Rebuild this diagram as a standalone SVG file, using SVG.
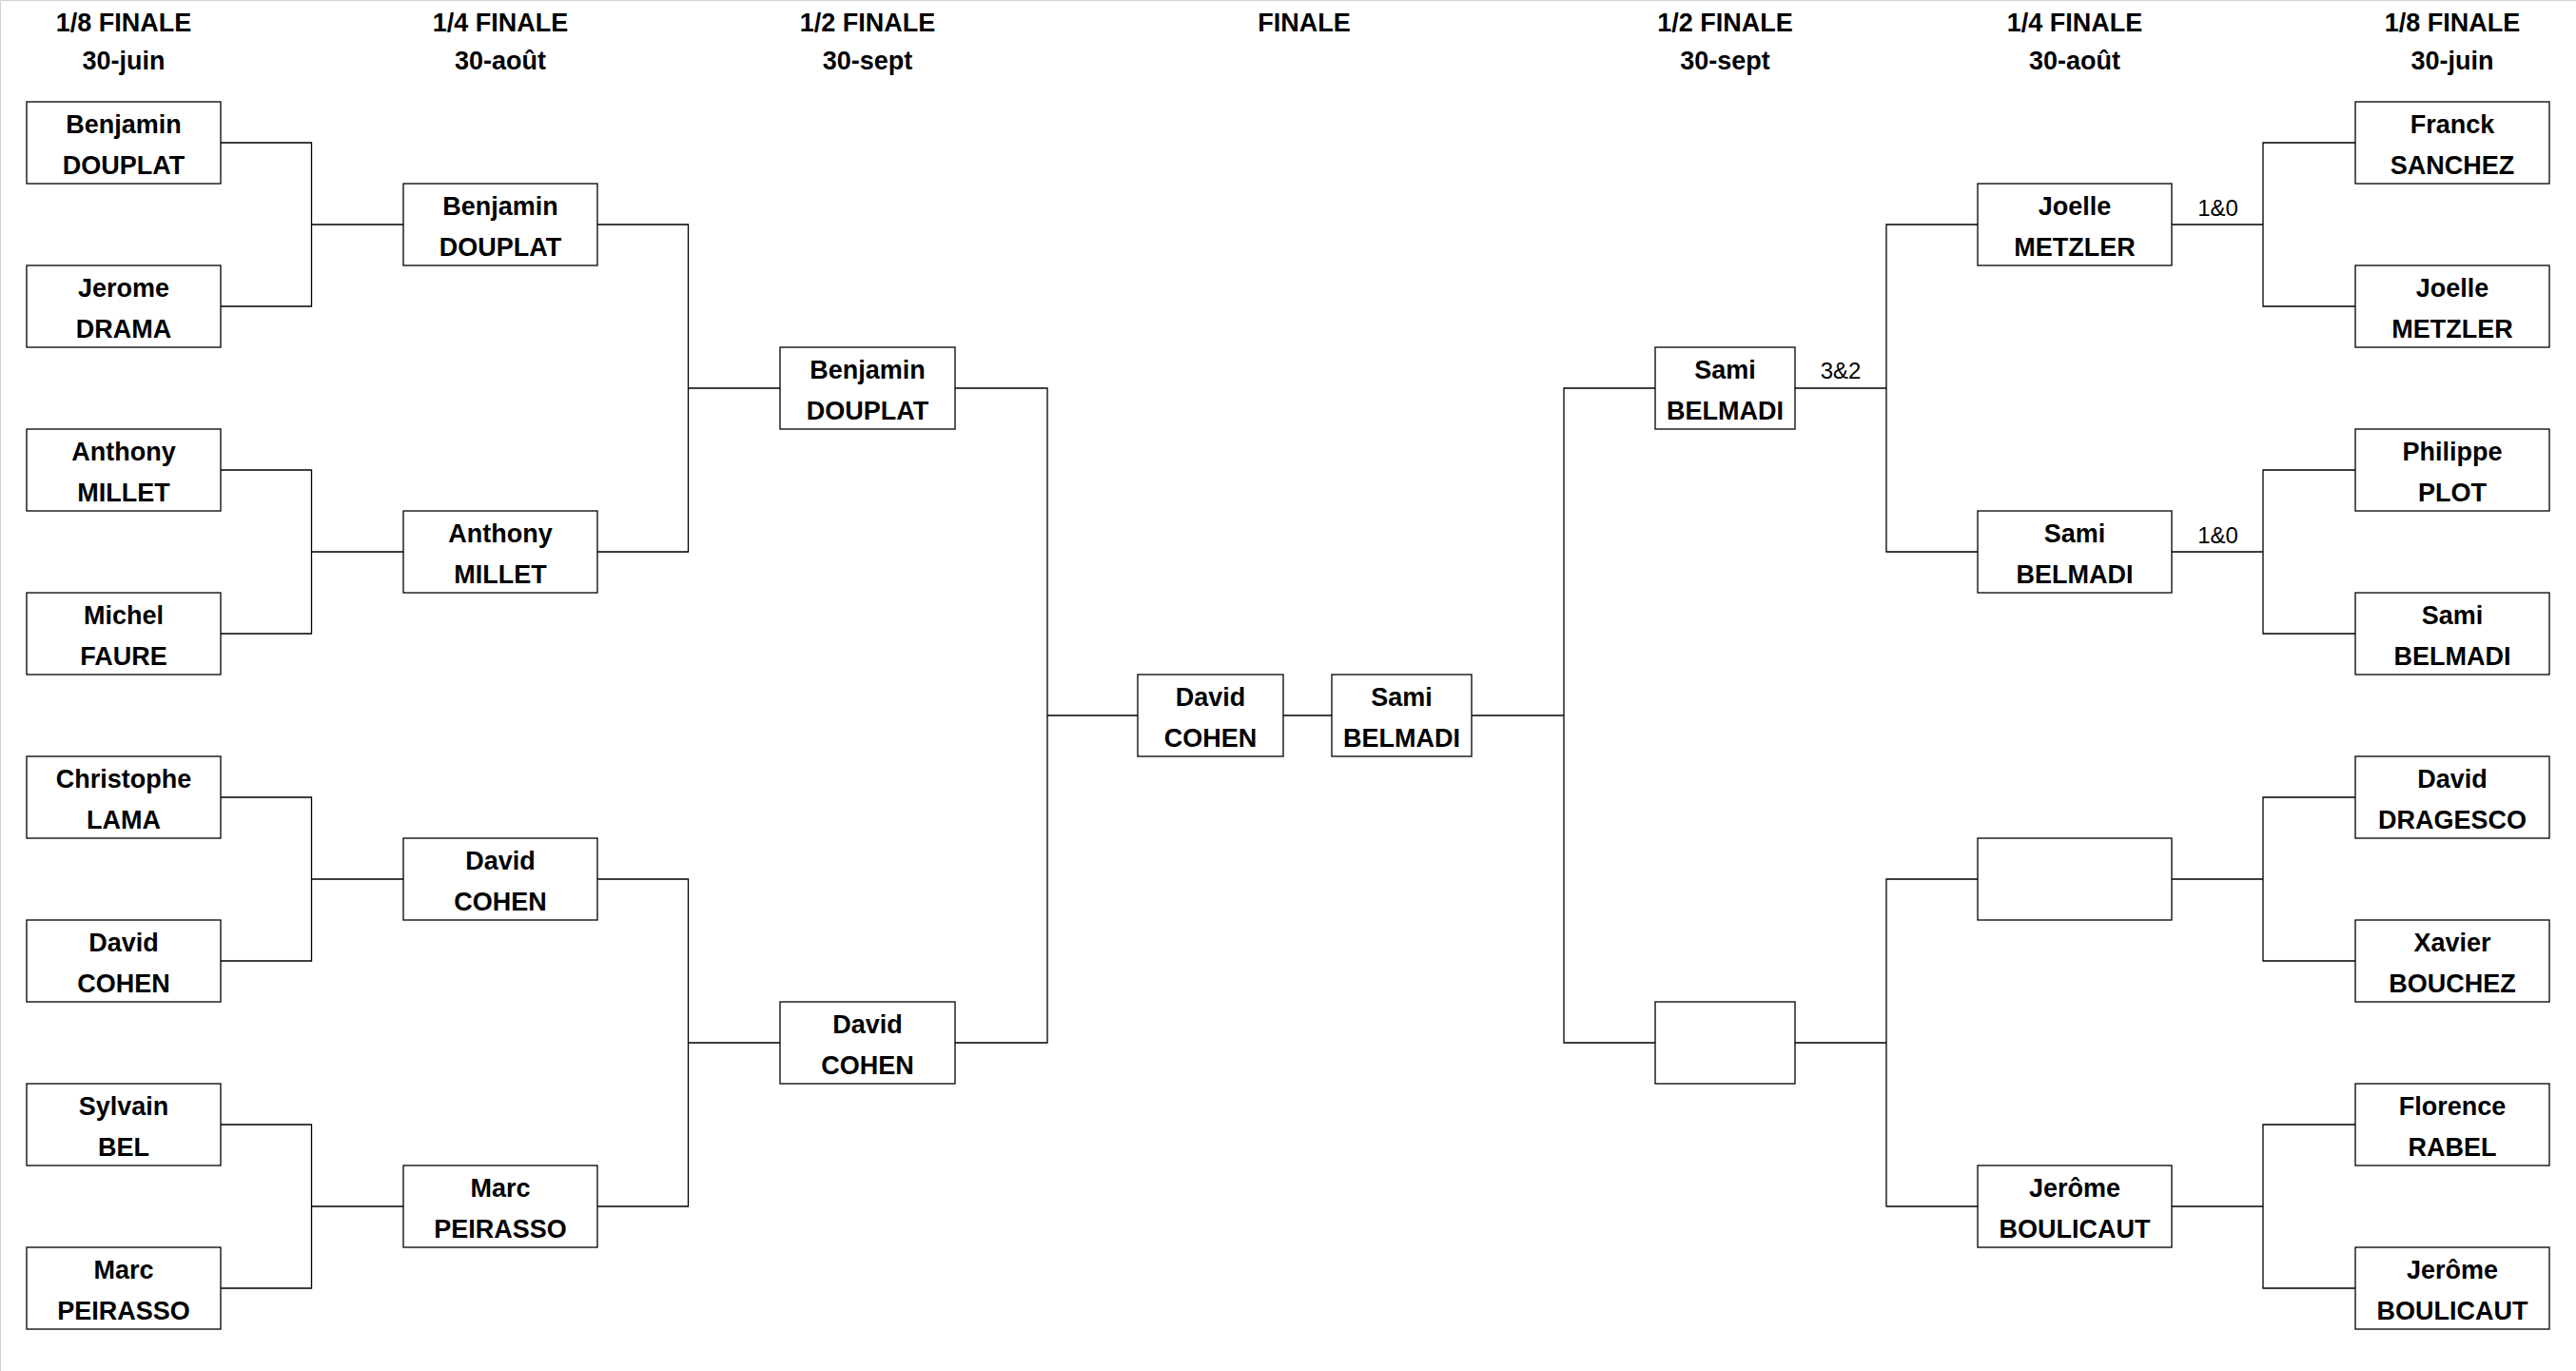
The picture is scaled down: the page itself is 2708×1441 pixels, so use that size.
<svg xmlns="http://www.w3.org/2000/svg" width="2708" height="1441" viewBox="0 0 2708 1441">
<style>
.bx{fill:#fff;stroke:#000;stroke-width:1.3}
.cn{fill:none;stroke:#000;stroke-width:1.3}
.nm{font-family:"Liberation Sans",Arial,sans-serif;font-weight:bold;font-size:27px;fill:#000;text-anchor:middle}
.hd{font-family:"Liberation Sans",Arial,sans-serif;font-weight:bold;font-size:27px;fill:#000;text-anchor:middle}
.sc{font-family:"Liberation Sans",Arial,sans-serif;font-size:24px;fill:#000;text-anchor:middle}
.fr{stroke:#d0d0d0;stroke-width:1;fill:none}
</style>
<rect x="0" y="0" width="2708" height="1441" fill="#fff"/>
<path class="fr" d="M0.5,1441 V0.5 H2708"/>

<g id="headers">
<text class="hd" x="130" y="33">1/8 FINALE</text><text class="hd" x="130" y="73">30-juin</text>
<text class="hd" x="526" y="33">1/4 FINALE</text><text class="hd" x="526" y="73">30-août</text>
<text class="hd" x="912" y="33">1/2 FINALE</text><text class="hd" x="912" y="73">30-sept</text>
<text class="hd" x="1371" y="33">FINALE</text>
<text class="hd" x="1813.5" y="33">1/2 FINALE</text><text class="hd" x="1813.5" y="73">30-sept</text>
<text class="hd" x="2181" y="33">1/4 FINALE</text><text class="hd" x="2181" y="73">30-août</text>
<text class="hd" x="2578" y="33">1/8 FINALE</text><text class="hd" x="2578" y="73">30-juin</text>
</g>

<g id="connectors">
<path class="cn" d="M232,150 H327.5 V322 H232 M327.5,236 H424"/>
<path class="cn" d="M232,494 H327.5 V666 H232 M327.5,580 H424"/>
<path class="cn" d="M232,838 H327.5 V1010 H232 M327.5,924 H424"/>
<path class="cn" d="M232,1182 H327.5 V1354 H232 M327.5,1268 H424"/>
<path class="cn" d="M628,236 H723.5 V580 H628 M723.5,408 H820"/>
<path class="cn" d="M628,924 H723.5 V1268 H628 M723.5,1096 H820"/>
<path class="cn" d="M1004,408 H1101 V1096 H1004 M1101,752 H1196"/>
<path class="cn" d="M1349,752 H1400"/>
<path class="cn" d="M1547,752 H1644 M1740,408 H1644 V1096 H1740"/>
<path class="cn" d="M1887,408 H1983 M2079,236 H1983 V580 H2079"/>
<path class="cn" d="M1887,1096 H1983 M2079,924 H1983 V1268 H2079"/>
<path class="cn" d="M2283,236 H2379 M2476,150 H2379 V322 H2476"/>
<path class="cn" d="M2283,580 H2379 M2476,494 H2379 V666 H2476"/>
<path class="cn" d="M2283,924 H2379 M2476,838 H2379 V1010 H2476"/>
<path class="cn" d="M2283,1268 H2379 M2476,1182 H2379 V1354 H2476"/>
<text class="sc" x="2331.5" y="227">1&amp;0</text>
<text class="sc" x="2331.5" y="571">1&amp;0</text>
<text class="sc" x="1935" y="398">3&amp;2</text>
</g>

<!-- Left 1/8 -->
<g id="l1-1"><rect class="bx" x="28" y="107" width="204" height="86"/><text class="nm" x="130" y="140">Benjamin</text><text class="nm" x="130" y="183">DOUPLAT</text></g>
<g id="l1-2"><rect class="bx" x="28" y="279" width="204" height="86"/><text class="nm" x="130" y="312">Jerome</text><text class="nm" x="130" y="355">DRAMA</text></g>
<g id="l1-3"><rect class="bx" x="28" y="451" width="204" height="86"/><text class="nm" x="130" y="484">Anthony</text><text class="nm" x="130" y="527">MILLET</text></g>
<g id="l1-4"><rect class="bx" x="28" y="623" width="204" height="86"/><text class="nm" x="130" y="656">Michel</text><text class="nm" x="130" y="699">FAURE</text></g>
<g id="l1-5"><rect class="bx" x="28" y="795" width="204" height="86"/><text class="nm" x="130" y="828">Christophe</text><text class="nm" x="130" y="871">LAMA</text></g>
<g id="l1-6"><rect class="bx" x="28" y="967" width="204" height="86"/><text class="nm" x="130" y="1000">David</text><text class="nm" x="130" y="1043">COHEN</text></g>
<g id="l1-7"><rect class="bx" x="28" y="1139" width="204" height="86"/><text class="nm" x="130" y="1172">Sylvain</text><text class="nm" x="130" y="1215">BEL</text></g>
<g id="l1-8"><rect class="bx" x="28" y="1311" width="204" height="86"/><text class="nm" x="130" y="1344">Marc</text><text class="nm" x="130" y="1387">PEIRASSO</text></g>

<!-- Left 1/4 -->
<g id="l2-1"><rect class="bx" x="424" y="193" width="204" height="86"/><text class="nm" x="526" y="226">Benjamin</text><text class="nm" x="526" y="269">DOUPLAT</text></g>
<g id="l2-2"><rect class="bx" x="424" y="537" width="204" height="86"/><text class="nm" x="526" y="570">Anthony</text><text class="nm" x="526" y="613">MILLET</text></g>
<g id="l2-3"><rect class="bx" x="424" y="881" width="204" height="86"/><text class="nm" x="526" y="914">David</text><text class="nm" x="526" y="957">COHEN</text></g>
<g id="l2-4"><rect class="bx" x="424" y="1225" width="204" height="86"/><text class="nm" x="526" y="1258">Marc</text><text class="nm" x="526" y="1301">PEIRASSO</text></g>

<!-- Left 1/2 -->
<g id="l3-1"><rect class="bx" x="820" y="365" width="184" height="86"/><text class="nm" x="912" y="398">Benjamin</text><text class="nm" x="912" y="441">DOUPLAT</text></g>
<g id="l3-2"><rect class="bx" x="820" y="1053" width="184" height="86"/><text class="nm" x="912" y="1086">David</text><text class="nm" x="912" y="1129">COHEN</text></g>

<!-- Final -->
<g id="f-1"><rect class="bx" x="1196" y="709" width="153" height="86"/><text class="nm" x="1272.5" y="742">David</text><text class="nm" x="1272.5" y="785">COHEN</text></g>
<g id="f-2"><rect class="bx" x="1400" y="709" width="147" height="86"/><text class="nm" x="1473.5" y="742">Sami</text><text class="nm" x="1473.5" y="785">BELMADI</text></g>

<!-- Right 1/2 -->
<g id="r3-1"><rect class="bx" x="1740" y="365" width="147" height="86"/><text class="nm" x="1813.5" y="398">Sami</text><text class="nm" x="1813.5" y="441">BELMADI</text></g>
<g id="r3-2"><rect class="bx" x="1740" y="1053" width="147" height="86"/></g>

<!-- Right 1/4 -->
<g id="r2-1"><rect class="bx" x="2079" y="193" width="204" height="86"/><text class="nm" x="2181" y="226">Joelle</text><text class="nm" x="2181" y="269">METZLER</text></g>
<g id="r2-2"><rect class="bx" x="2079" y="537" width="204" height="86"/><text class="nm" x="2181" y="570">Sami</text><text class="nm" x="2181" y="613">BELMADI</text></g>
<g id="r2-3"><rect class="bx" x="2079" y="881" width="204" height="86"/></g>
<g id="r2-4"><rect class="bx" x="2079" y="1225" width="204" height="86"/><text class="nm" x="2181" y="1258">Jerôme</text><text class="nm" x="2181" y="1301">BOULICAUT</text></g>

<!-- Right 1/8 -->
<g id="r1-1"><rect class="bx" x="2476" y="107" width="204" height="86"/><text class="nm" x="2578" y="140">Franck</text><text class="nm" x="2578" y="183">SANCHEZ</text></g>
<g id="r1-2"><rect class="bx" x="2476" y="279" width="204" height="86"/><text class="nm" x="2578" y="312">Joelle</text><text class="nm" x="2578" y="355">METZLER</text></g>
<g id="r1-3"><rect class="bx" x="2476" y="451" width="204" height="86"/><text class="nm" x="2578" y="484">Philippe</text><text class="nm" x="2578" y="527">PLOT</text></g>
<g id="r1-4"><rect class="bx" x="2476" y="623" width="204" height="86"/><text class="nm" x="2578" y="656">Sami</text><text class="nm" x="2578" y="699">BELMADI</text></g>
<g id="r1-5"><rect class="bx" x="2476" y="795" width="204" height="86"/><text class="nm" x="2578" y="828">David</text><text class="nm" x="2578" y="871">DRAGESCO</text></g>
<g id="r1-6"><rect class="bx" x="2476" y="967" width="204" height="86"/><text class="nm" x="2578" y="1000">Xavier</text><text class="nm" x="2578" y="1043">BOUCHEZ</text></g>
<g id="r1-7"><rect class="bx" x="2476" y="1139" width="204" height="86"/><text class="nm" x="2578" y="1172">Florence</text><text class="nm" x="2578" y="1215">RABEL</text></g>
<g id="r1-8"><rect class="bx" x="2476" y="1311" width="204" height="86"/><text class="nm" x="2578" y="1344">Jerôme</text><text class="nm" x="2578" y="1387">BOULICAUT</text></g>
</svg>
